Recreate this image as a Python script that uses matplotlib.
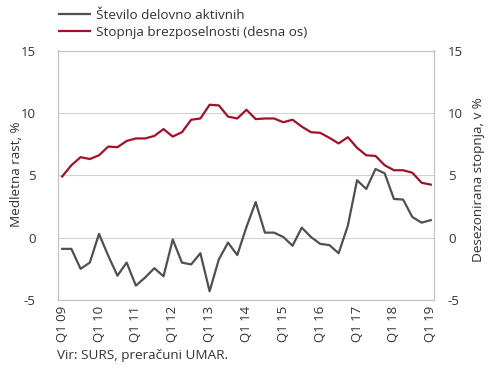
import matplotlib
matplotlib.use("Agg")
import matplotlib.pyplot as plt
import numpy as np

plt.rcParams['font.family'] = ['Open Sans', 'DejaVu Sans']

quarters = [f"Q{q} {y:02d}" for y in range(9, 20) for q in range(1, 5)][:41]
employed = [-0.9, -0.9, -2.5, -2.0, 0.3, -1.45, -3.05, -2.0, -3.85, -3.2, -2.45, -3.1,
            -0.15, -2.0, -2.15, -1.25, -4.3, -1.75, -0.4, -1.4, 0.85, 2.85, 0.4, 0.4,
            0.05, -0.65, 0.8, 0.05, -0.5, -0.6, -1.25, 0.95, 4.6, 3.9, 5.5, 5.15,
            3.1, 3.05, 1.65, 1.2, 1.4]
unemployment = [4.9, 5.8, 6.45, 6.3, 6.6, 7.3, 7.25, 7.75, 7.95, 7.95, 8.15, 8.7,
                8.1, 8.45, 9.45, 9.55, 10.65, 10.6, 9.7, 9.55, 10.25, 9.5, 9.55, 9.55,
                9.25, 9.45, 8.9, 8.45, 8.4, 8.0, 7.55, 8.05, 7.2, 6.6, 6.55, 5.8,
                5.4, 5.4, 5.2, 4.4, 4.25]
yticks = [-5, 0, 5, 10, 15]
label_gray = "Število delovno aktivnih"
label_red = "Stopnja brezposelnosti (desna os)"

GRAY = "#505050"
RED = "#a3102b"
TXT = "#333333"
GRID = "#d2d2d2"
FS = 9.7

W, H = 490, 373
fig = plt.figure(figsize=(W / 100, H / 100), dpi=100)
ax = fig.add_axes([58 / W, (H - 300) / H, (434 - 58) / W, (300 - 50.5) / H])
ax2 = ax.twinx()

x = np.arange(len(quarters))
l1, = ax.plot(x, employed, color=GRAY, lw=1.6, label=label_gray)
l2, = ax2.plot(x, unemployment, color=RED, lw=1.6, label=label_red)

for a in (ax, ax2):
    a.set_ylim(-5, 15)
    a.set_yticks(yticks)
    a.set_xlim(-0.45, 40.35)
    for s in a.spines.values():
        s.set_color("#c4c4c4")
        s.set_linewidth(0.8)
    a.tick_params(axis='both', length=0, colors=TXT, labelsize=9.5)

ax.set_yticklabels([str(v) for v in yticks])
ax2.set_yticklabels([str(v) for v in yticks])
ax.tick_params(axis='y', pad=16)
ax2.tick_params(axis='y', pad=10)
ax.grid(axis='y', color=GRID, lw=0.8)
ax.set_axisbelow(True)

ax.set_xticks(x[::4])
ax.set_xticklabels(quarters[::4], rotation=90)
ax.tick_params(axis='x', pad=4)

ax.set_ylabel("Medletna rast, %", fontsize=FS, color=TXT, va='center')
ax2.set_ylabel("Desezonirana stopnja, v %", fontsize=FS, color=TXT, rotation=90, va='center')
ax.yaxis.set_label_coords((17 - 58) / 376, (300 - 174) / 249.5)
ax2.yaxis.set_label_coords((478.5 - 58) / 376, (300 - 180) / 249.5)

fig.legend(handles=[l1, l2], loc='upper left', bbox_to_anchor=(47 / W, 1.008),
           frameon=False, fontsize=FS, handlelength=2.3, handletextpad=0.4,
           labelspacing=0.3, labelcolor=TXT)

fig.text(57 / W, 1 - 356 / H, "Vir: SURS, preračuni UMAR.", fontsize=FS, color=TXT,
         va='center', ha='left')

fig.savefig("out.png", dpi=100)
